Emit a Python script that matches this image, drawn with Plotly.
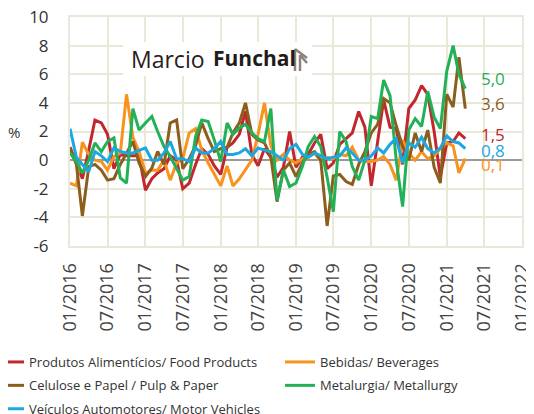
import plotly.graph_objects as go
import pandas as pd

# ---------------- data ----------------
months = pd.date_range("2016-01-01", periods=64, freq="MS")

food = [0.9, -0.2, -1.3, 0.7, 2.8, 2.6, 1.8, -0.6, 0.4, 0.3,
        0.3, 0.3, -2.1, -1.3, -0.9, -0.6, 0.3, 0.0, -2.0, -1.6,
        -0.3, 0.8, 0.4, -0.4, -1.0, 0.9, 1.2, 1.8, 3.4, 0.4,
        -0.4, 0.8, 0.2, -1.2, -0.5, 2.0, -0.5, 0.2, 0.4, 1.2,
        1.8, -0.6, -0.2, 1.1, 1.5, 1.9, 3.4, 2.3, -1.8, 1.5,
        4.2, 2.3, 2.2, -0.3, 3.6, 4.2, 5.2, 4.6, 2.0, -1.2,
        1.2, 1.3, 1.9, 1.5]
beverages = [-1.6, -1.8, 1.25, 0.4, 0.0, -0.1, -0.7, 0.25, 0.5, 4.6,
             1.6, 0.6, -0.9, -0.7, -0.7, 0.0, -1.4, -0.2, 0.1, 1.9,
             2.2, 0.7, -0.2, -1.0, -1.8, -0.4, -1.8, -1.3, -0.7, 0.0,
             1.8, 4.0, 1.0, 0.0, 0.4, 0.0, -0.2, 0.1, 0.2, 0.5,
             -0.1, 0.2, 0.1, 0.4, 0.3, 0.9, 0.0, -0.1, -0.1, 0.0,
             0.25, -0.3, -1.4, 1.4, 0.5, 0.0, 0.6, 0.1, 0.3, 0.8,
             1.2, 1.0, -0.9, 0.1]
pulp = [0.9, -0.3, -3.9, -0.45, -0.3, -0.7, -1.4, -1.3, -0.3, 0.5,
        1.3, -0.2, -1.15, -0.55, 0.6, -0.3, 2.6, 2.8, -0.6, 0.1,
        1.0, 2.6, 1.5, 0.6, 0.8, 0.9, 1.9, 2.6, 4.0, 1.8,
        1.4, 1.2, 0.25, -2.9, -0.7, -0.2, -1.15, -0.2, 0.4, 0.6,
        0.0, -4.6, -1.1, -1.0, -1.5, -1.7, -0.3, 0.6, 1.9, 2.5,
        4.3, 4.0, 2.4, 0.95, 0.0, 1.9, 0.6, 2.1, -0.5, -1.6,
        4.6, 3.7, 7.2, 3.6]
metallurgy = [0.5, -0.1, -0.9, 0.0, 1.2, 0.6, 1.3, 1.55, -1.25, -1.6,
              3.6, 2.1, 2.6, 3.05, 2.0, 0.95, 0.25, -0.55, -1.4, -1.15,
              1.65, 2.8, 2.7, 1.4, -0.1, 2.6, 1.8, 2.25, 2.5, 1.9,
              1.5, 1.3, 3.6, -2.8, -0.7, -1.85, -1.6, -0.45, 0.95, 1.65,
              0.95, -1.2, -3.6, 2.0, 1.3, -0.45, -1.4, 0.0, 3.05, 2.9,
              5.6, 4.5, 0.0, -3.25, 2.1, 2.9, 2.35, 4.8, 3.0, 2.2,
              6.2, 8.0, 6.0, 5.0]
vehicles = [2.2, 0.2, -0.3, -0.8, 0.6, 0.3, -0.1, 0.85, 0.6, 0.5,
            0.5, 0.7, 0.85, 0.0, 0.0, 0.5, 1.3, 0.1, 0.1, -0.1,
            0.85, 0.5, 0.5, 0.8, 1.3, 0.4, 0.4, 0.5, 0.8, 0.3,
            0.85, 0.7, 0.6, 0.3, 0.0, 0.8, 1.1, 0.4, 0.2, 0.5,
            0.3, 0.1, 0.2, 0.3, 0.85, 0.5, 0.0, 0.0, 0.3, 0.85,
            0.5, 1.1, 1.5, -0.2, 1.2, 0.9, 1.6, 0.8, 0.5, 0.85,
            1.7, 1.3, 1.2, 0.8]

series_names = ["Produtos Alimentícios/ Food Products", "Bebidas/ Beverages",
                "Celulose e Papel / Pulp & Paper", "Metalurgia/ Metallurgy",
                "Veículos Automotores/ Motor Vehicles"]
series_values = [food, beverages, pulp, metallurgy, vehicles]

x_tick_vals = pd.date_range("2016-01-01", "2022-01-01", freq="6MS")
x_tick_text = [d.strftime("%m/%Y") for d in x_tick_vals]
year_ticks = pd.date_range("2016-01-01", "2022-01-01", freq="12MS")
y_tick_vals = [-6, -4, -2, 0, 2, 4, 6, 8, 10]
y_tick_text = ["-6", "-4", "-2", "0", "2", "4", "6", "8", "10"]

# ---------------- style ----------------
colors = ["#C1272D", "#F7931E", "#8B5E1E", "#22B157", "#1BA8E0"]
legend_of = ["legend", "legend2", "legend", "legend2", "legend"]
label_order = [3, 2, 0, 4, 1]            # green, brown, red, blue, orange (top->bottom)
label_px_y = [78, 103, 134, 150, 164]    # label positions in page pixels (layout)

OFF = 8                                   # page body margin
W, H = 534 - OFF, 414 - OFF
ML, MR, MT, MB = 70 - OFF, 12, 17 - OFF, 168
PW, PH = W - ML - MR, H - MT - MB


def px(x):  # page pixel -> paper
    return (x - OFF - ML) / PW


def py(y):
    return (H - MB - (y - OFF)) / PH


grid = "#EAE8D8"

fig = go.Figure()
for i, (name, vals, c) in enumerate(zip(series_names, series_values, colors)):
    fig.add_trace(go.Scatter(x=months, y=vals, mode="lines", name=name,
                             legend=legend_of[i], legendgroup=f"g{i}",
                             line=dict(color=c, width=3)))

leg_common = dict(orientation="v", xanchor="left", yanchor="top",
                  traceorder="grouped", tracegroupgap=3.5,
                  font=dict(size=13, color="#333333", family="Open Sans"),
                  bgcolor="rgba(0,0,0,0)", borderwidth=0)

fig.update_layout(
    width=W, height=H,
    margin=dict(l=ML, r=MR, t=MT, b=MB, autoexpand=False),
    paper_bgcolor="white", plot_bgcolor="white",
    font=dict(family="Open Sans", color="#333333"),
    showlegend=True,
    legend=dict(x=px(-11), y=py(347), **leg_common),
    legend2=dict(x=px(280), y=py(347), **leg_common),
    xaxis=dict(type="date", range=["2016-01-01", "2022-01-01"],
               tickvals=list(x_tick_vals), ticktext=x_tick_text, tickangle=-90,
               tickfont=dict(size=18, color="#444444"), ticklabeloverflow="allow",
               showgrid=True, gridcolor=grid, gridwidth=2,
               showline=True, linecolor=grid, linewidth=2, mirror=True,
               zeroline=False, ticks="outside", ticklen=8, tickcolor="rgba(0,0,0,0)"),
    yaxis=dict(range=[-6, 10], tickvals=y_tick_vals, ticktext=y_tick_text,
               tickfont=dict(size=17, color="#333333"), ticklabeloverflow="allow",
               showgrid=True, gridcolor=grid, gridwidth=2,
               showline=True, linecolor=grid, linewidth=2, mirror=True,
               zeroline=True, zerolinecolor="#9A9A9A", zerolinewidth=1.5,
               ticks="outside", ticklen=16, tickcolor="rgba(0,0,0,0)"),
    xaxis2=dict(type="date", overlaying="x", anchor="free", position=6 / 16,
                range=["2016-01-01", "2022-01-01"], tickvals=list(year_ticks),
                showticklabels=False, ticks="outside", ticklen=5, tickwidth=1.5,
                tickcolor="#9A9A9A", showgrid=False, zeroline=False, showline=False),
)

# logo box
fig.add_shape(type="rect", xref="paper", yref="paper",
              x0=px(123), x1=px(312), y0=py(76), y1=py(42),
              fillcolor="white", line=dict(width=0), layer="above")
fig.add_annotation(text="Marcio", xref="paper", yref="paper", x=px(129), y=py(59),
                   xanchor="left", yanchor="middle",
                   showarrow=False, font=dict(size=23, color="#2A2020", family="Open Sans"))
fig.add_annotation(text="<b>Funchal</b>", xref="paper", yref="paper", x=px(211), y=py(58),
                   xanchor="left", yanchor="middle",
                   showarrow=False, font=dict(size=21, color="#231A1A", family="Open Sans"))
icon = "#8C817B"
for (x0, y0, x1, y1) in [(295, 49, 295, 71), (300, 55, 300, 71),
                         (295, 49, 307, 58), (300, 55, 307, 63)]:
    fig.add_shape(type="line", xref="paper", yref="paper",
                  x0=px(x0), y0=py(y0), x1=px(x1), y1=py(y1),
                  line=dict(color=icon, width=2.5), layer="above")

# end labels
for idx, ly in zip(label_order, label_px_y):
    txt = f"{series_values[idx][-1]:.1f}".replace(".", ",")
    fig.add_annotation(text=txt, xref="paper", yref="paper", x=px(479), y=py(ly),
                       xanchor="left", yanchor="middle", showarrow=False,
                       font=dict(size=17, color=colors[idx], family="Open Sans"))

# y unit
fig.add_annotation(text="%", xref="paper", yref="paper", x=px(14), y=py(132),
                   xanchor="center", yanchor="middle",
                   showarrow=False, font=dict(size=15, color="#333333"))

fig.write_html("out.html")
